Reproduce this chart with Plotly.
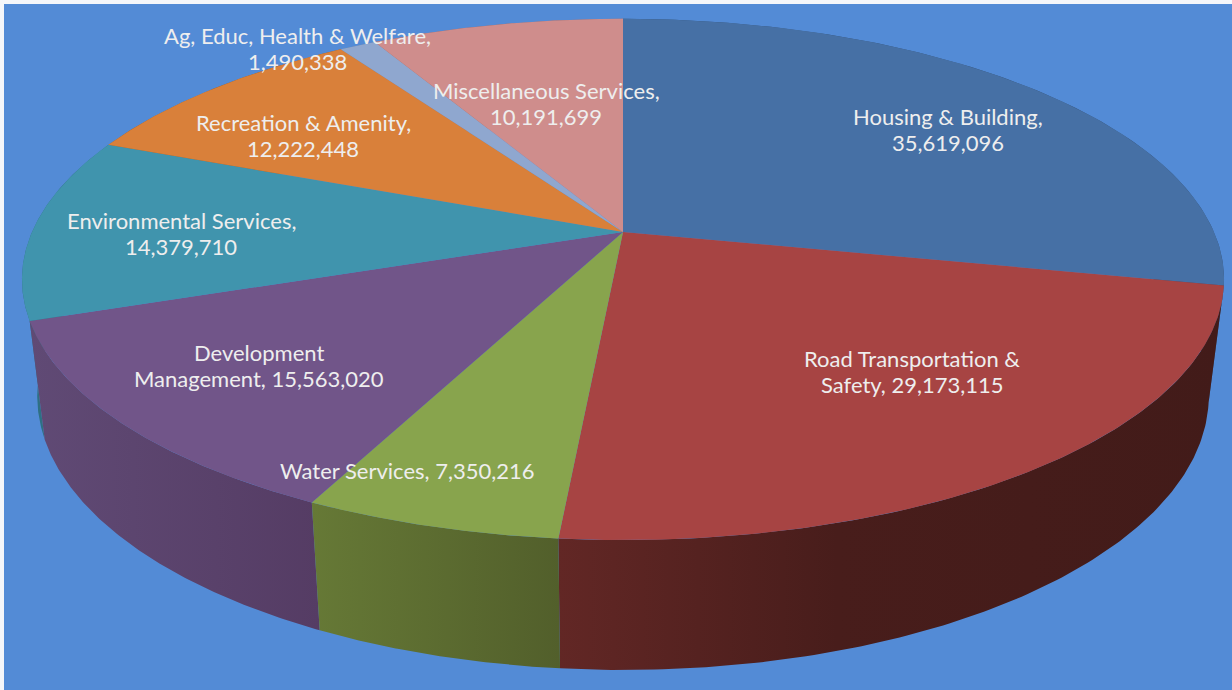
import numpy as np
import plotly.graph_objects as go

# ---- data ----
categories = ["Housing & Building", "Road Transportation & Safety", "Water Services",
              "Development Management", "Environmental Services", "Recreation & Amenity",
              "Ag, Educ, Health & Welfare", "Miscellaneous Services"]
values = [35619096, 29173115, 7350216, 15563020, 14379710, 12222448, 1490338, 10191699]

# ---- styles ----
top_colors = ["#4670A5", "#A74443", "#88A44D", "#715589", "#4094AD", "#D9803A", "#8FA7CF", "#CF8D8C"]
wall_stops = [
    ("#34537A", "#34537A"), ("#622725", "#421B19"), ("#667936", "#525F2B"), ("#604A75", "#553C64"),
    ("#2E7083", "#2E7083"), ("#A3602B", "#A3602B"), ("#6B7D9B", "#6B7D9B"), ("#9B6A69", "#9B6A69"),
]
BG = "#538BD6"
# projection of the pie disc on the page
CX, TOP_Y, BOT_Y = 623, 232, 346
TOP_A, TOP_B = 591, 252
BOT_A, BOT_B = 576, 265
K = 0.182

label_breaks = ["Housing & Building,", "Road Transportation &", "Water Services, 7,350,216",
                "Development", "Environmental Services,", "Recreation & Amenity,",
                "Ag, Educ, Health & Welfare,", "Miscellaneous Services,"]
label_x = [948, 912, 407, 259, 181, 303, 297, 546]
label_y1 = [116, 358, 470, 352, 220, 122, 35, 90]
LINE_GAP = 26
FONT = dict(family="Lato", size=22, color="#EEEEEE")


def project(theta, cy, a, b):
    u, v = np.sin(theta), np.cos(theta)
    w = 1 + K * v
    return CX + a * u / w, cy - b * v / w


fractions = np.array(values, dtype=float) / sum(values)
edges = np.concatenate([[0.0], np.cumsum(fractions)]) * 2 * np.pi

fig = go.Figure()

# side walls, far ones first
order = sorted(range(len(values)), key=lambda i: np.cos((edges[i] + edges[i + 1]) / 2), reverse=True)
for i in order:
    th = np.linspace(edges[i], edges[i + 1], 120)
    xt, yt = project(th, TOP_Y, TOP_A, TOP_B)
    xb, yb = project(th, BOT_Y, BOT_A, BOT_B)
    x = np.concatenate([xt, xb[::-1], xt[:1]])
    y = np.concatenate([yt, yb[::-1], yt[:1]])
    c0, c1 = wall_stops[i]
    if i == 1:
        scale = [[0, c0], [0.42, "#481D1B"], [1, "#421B19"]]
    else:
        scale = [[0, c0], [1, c1]]
    fig.add_trace(go.Scatter(
        x=x, y=y, mode="lines", line=dict(width=0), fill="toself",
        fillgradient=dict(type="horizontal", colorscale=scale,
                          start=float(x.min()), stop=float(x.max())),
        hoverinfo="skip", showlegend=False))

# top face
for i, (cat, val) in enumerate(zip(categories, values)):
    th = np.linspace(edges[i], edges[i + 1], 160)
    xt, yt = project(th, TOP_Y, TOP_A, TOP_B)
    fig.add_trace(go.Scatter(
        x=np.concatenate([[CX], xt, [CX]]), y=np.concatenate([[TOP_Y], yt, [TOP_Y]]),
        mode="lines", line=dict(width=0), fill="toself", fillcolor=top_colors[i],
        name=cat, text=f"{cat}, {val:,}", hoverinfo="text", showlegend=False))

# labels
for cat, val, brk, lx, ly in zip(categories, values, label_breaks, label_x, label_y1):
    full = f"{cat}, {val:,}"
    rest = full[len(brk):].strip()
    fig.add_annotation(x=lx, y=ly, text=brk, showarrow=False, font=FONT, xanchor="center", yanchor="middle")
    if rest:
        fig.add_annotation(x=lx, y=ly + LINE_GAP, text=rest, showarrow=False, font=FONT,
                           xanchor="center", yanchor="middle")

fig.update_layout(
    width=1232, height=690, margin=dict(l=0, r=0, t=0, b=0),
    paper_bgcolor="#F4F6FA", plot_bgcolor="#F4F6FA", showlegend=False,
    xaxis=dict(range=[0, 1232], visible=False, fixedrange=True),
    yaxis=dict(range=[690, 0], visible=False, fixedrange=True),
    shapes=[dict(type="rect", x0=4, x1=1232, y0=4, y1=690, fillcolor=BG, line_width=0, layer="below")],
)
fig.write_html("out.html", config={"displayModeBar": False},
               post_script="document.body.style.margin='0';document.body.style.overflow='hidden';")
